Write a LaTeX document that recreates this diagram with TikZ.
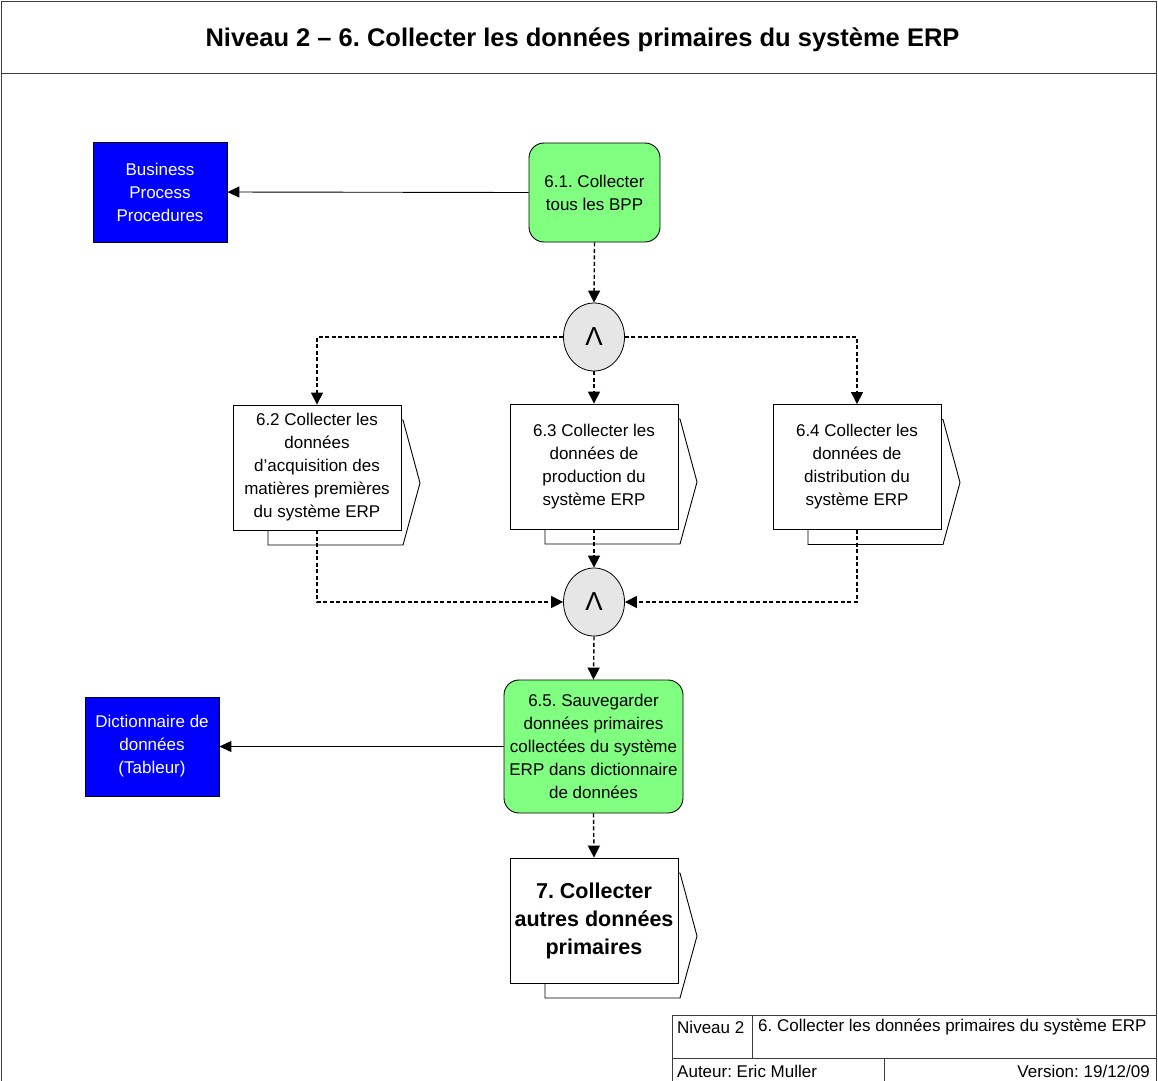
\documentclass[tikz,border=0pt]{standalone}
\usepackage{fontspec}
\setmainfont{Liberation Sans}
\usetikzlibrary{arrows.meta,shapes.geometric}
\frenchspacing

\definecolor{stepgreen}{RGB}{128,255,128}
\definecolor{docblue}{RGB}{0,0,255}
\definecolor{gategray}{RGB}{230,230,230}
\definecolor{framegray}{RGB}{60,60,60}

\tikzset{
  txt/.style={font=\fontsize{17}{23}\selectfont, align=center, inner sep=0pt},
  task/.style={txt, draw=black, line width=0.9pt, fill=stepgreen, rounded corners=15pt},
  doc/.style={txt, draw=black, line width=0.8pt, fill=docblue, text=white},
  gate/.style={ellipse, draw=black, line width=0.8pt, fill=gategray, inner sep=0pt,
    minimum width=61pt, minimum height=68pt, font=\fontsize{26}{26}\selectfont},
  proc/.style={txt, draw=black, line width=0.9pt, fill=white,
    minimum width=168pt, minimum height=125pt},
  procback/.style={draw=black, line width=0.9pt, fill=white},
  flow/.style={line width=1.4pt, dash pattern=on 4pt off 2.5pt,
    -{Triangle[length=12pt,width=12pt]}},
  link/.style={line width=0.9pt, -{Triangle[length=12pt,width=11pt]}},
  foot/.style={font=\fontsize{17}{20}\selectfont, inner sep=0pt}
}

% process box with a second sheet behind it: name, x, y, extra style, text
\newcommand\ProcBox[5]{%
  \draw[procback] (#2-49,#3-47.5) -- (#2+86,#3-47.5) -- (#2+103,#3+15.5)
    -- (#2+86,#3+77.5) -- (#2-49,#3+77.5) -- cycle;
  \node[proc,#4] (#1) at (#2,#3) {#5};}

\begin{document}
\begin{tikzpicture}[x=1pt,y=-1pt]
\useasboundingbox (0,0) rectangle (1158,1080);
\clip (0,0) rectangle (1158,1080);
\fill[white] (0,0) rectangle (1158,1080);

% frame and title band
\draw[framegray, line width=1pt] (1,1090) -- (1,1) -- (1156,1) -- (1156,1090);
\draw[framegray, line width=1pt] (1,73) -- (1156,73);
\node[font=\fontsize{25.5}{30}\selectfont\bfseries, inner sep=0pt] (title) at (582.5,40)
  {Niveau 2 – 6. Collecter les données primaires du système ERP};

% documents
\node[doc, minimum width=134pt, minimum height=100pt] (bpp) at (160,192)
  {Business\\Process\\Procedures};
\node[doc, minimum width=134pt, minimum height=99pt] (dict) at (152,746.5)
  {Dictionnaire de\\données\\(Tableur)};

% tasks
\node[task, minimum width=131pt, minimum height=99pt] (t61) at (594.5,192.5)
  {6.1. Collecter\\tous les BPP};
\node[task, minimum width=179pt, minimum height=133pt] (t65) at (593.5,746.5)
  {6.5. Sauvegarder\\données primaires\\collectées du système\\ERP dans dictionnaire\\de données};

% AND gates
\node[gate] (and1) at (594,337) {Λ};
\node[gate] (and2) at (594,602) {Λ};

% sub-processes
\ProcBox{p62}{317}{467.5}{}{6.2 Collecter les\\données\\d’acquisition des\\matières premières\\du système ERP}
\ProcBox{p63}{594}{466.5}{}{6.3 Collecter les\\données de\\production du\\système ERP}
\ProcBox{p64}{857}{467}{}{6.4 Collecter les\\données de\\distribution du\\système ERP}
\ProcBox{p7}{594}{920.5}{font=\fontsize{21.5}{28}\selectfont\bfseries}{7. Collecter\\autres données\\primaires}

% control flow
\draw[flow] (t61.south) -- (and1.north);
\draw[flow] (and1.west) -| (p62.north);
\draw[flow] (and1.south) -- (p63.north);
\draw[flow] (and1.east) -| (p64.north);
\draw[flow] (p62.south) |- (and2.west);
\draw[flow] (p63.south) -- (and2.north);
\draw[flow] (p64.south) |- (and2.east);
\draw[flow] (and2.south) -- (t65.north);
\draw[flow] (t65.south) -- (p7.north);

% outputs
\draw[link] (t61.west) -- (bpp.east);
\draw[link] (t65.west) -- (dict.east);

% title block
\draw[framegray, line width=1pt] (672,1090) -- (672,1015) -- (1156,1015);
\draw[framegray, line width=1pt] (672,1058) -- (1156,1058);
\draw[framegray, line width=1pt] (752,1015) -- (752,1058);
\draw[framegray, line width=1pt] (884,1058) -- (884,1090);
\node[foot, anchor=west] (lvl) at (677,1027) {Niveau 2};
\node[foot, anchor=west] (ttl) at (758,1027) {6. Collecter les données primaires du système ERP};
\node[foot, anchor=west] (auth) at (677,1071) {Auteur: Eric Muller};
\node[foot, anchor=east] (ver) at (1150,1071) {Version: 19/12/09};
\end{tikzpicture}
\end{document}
